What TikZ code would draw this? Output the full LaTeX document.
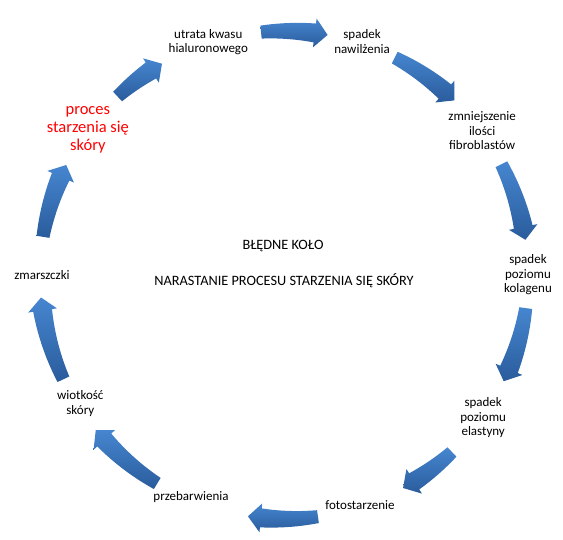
\documentclass[tikz,border=0pt]{standalone}
\usepackage{fontspec}
\setmainfont{Carlito}
\usepackage{tikz}
\usetikzlibrary{calc}
\definecolor{arrtop}{RGB}{70,134,208}
\definecolor{arrbot}{RGB}{42,92,156}
\definecolor{procred}{RGB}{255,0,0}

\begin{document}
\begin{tikzpicture}[
  x=1pt, y=1pt,
  lbl/.style={align=center, inner sep=0pt, font=\fontsize{13}{14.5}\selectfont},
  big/.style={lbl, text=procred, font=\fontsize{16.5}{18}\selectfont},
  mid/.style={inner sep=0pt, font=\fontsize{14.3}{16}\selectfont},
  arr/.style={top color=arrtop, bottom color=arrbot}
]
  \useasboundingbox (-284,-264) rectangle (279,275);
  \coordinate (c) at (0,0);

  \node[big] (proces) at (143.5:244) {proces\\starzenia się\\skóry};
  \node[lbl] (hial)   at (108:245) {utrata kwasu\\hialuronowego};
  \node[lbl] (nawil)  at (71.5:246) {spadek\\nawilżenia};
  \node[lbl] (fibro)  at (36:245) {zmniejszenie\\ilości\\fibroblastów};
  \node[lbl] (kolag)  at (0:244) {spadek\\poziomu\\kolagenu};
  \node[lbl] (elast)  at (-35.6:245) {spadek\\poziomu\\elastyny};
  \node[lbl] (foto)   at (-71.7:242) {fotostarzenie};
  \node[lbl] (przeb)  at (-112.7:241) {przebarwienia};
  \node[lbl] (wiotk)  at (-147.7:241) {wiotkość\\skóry};
  \node[lbl] (zmarsz) at (180:242) {zmarszczki};

  \node[mid] (title) at (-1,29) {BŁĘDNE KOŁO};
  \node[mid] (sub)   at (0,-6) {NARASTANIE PROCESU STARZENIA SIĘ SKÓRY};

  \foreach \s/\e in {133/120, 95.4/79.7, 63/45.7, 27/8.3, -7.8/-25.8,
                     -46.5/-60.8, -82/-98.5, -121.3/-140.5, -154.7/-174.7, 171/153.2}{
    \pgfmathsetmacro\b{\e+3.05}
    \shade[arr]
      plot[domain=\s:\b, samples=12] (\x:{250.5+3*(\s-\x)/(\s-\b)})
      -- (\b:258.5) -- (\e:244) -- (\b:229.5)
      -- plot[domain=\b:\s, samples=12] (\x:{237.5-3*(\s-\x)/(\s-\b)})
      -- cycle;
  }
\end{tikzpicture}
\end{document}
